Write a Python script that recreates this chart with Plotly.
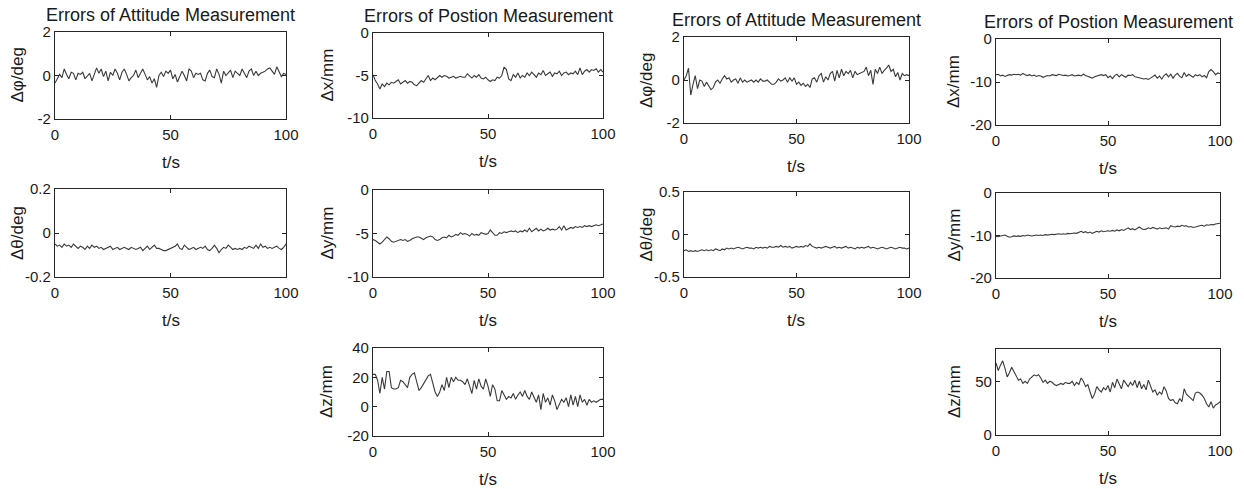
import numpy as np
import plotly.graph_objects as go

# ---------------- data ----------------
phi_a = [-0.35,-0.15,0.05,-0.1,0.3,0.05,-0.15,0.15,0.1,-0.2,
         0.1,0.05,0.15,-0.15,0.0,0.1,-0.25,0.1,0.35,0.1,
         0.3,-0.05,0.2,-0.25,0.15,0.0,0.3,0.1,-0.2,0.15,
         0.3,0.05,-0.25,-0.1,0.0,0.25,-0.1,0.1,0.3,0.05,
         -0.2,-0.05,-0.35,-0.15,-0.55,0.0,0.15,-0.05,0.2,0.1,
         0.25,-0.15,0.05,-0.3,-0.05,0.2,0.0,-0.25,0.3,0.2,
         -0.1,0.1,0.05,0.1,-0.2,-0.25,0.1,0.25,-0.05,-0.1,
         0.3,0.05,-0.35,0.2,0.0,0.15,0.25,-0.1,0.2,0.1,
         0.0,0.3,0.1,-0.1,0.2,0.3,0.0,0.2,0.0,0.1,
         0.15,0.2,0.3,0.35,0.2,0.05,0.4,0.15,-0.05,0.1,0.05]

theta_a = [-0.05,-0.06,-0.055,-0.065,-0.05,-0.06,-0.055,-0.065,-0.05,-0.06,
           -0.07,-0.06,-0.065,-0.075,-0.06,-0.07,-0.055,-0.065,-0.06,-0.07,
           -0.065,-0.075,-0.07,-0.065,-0.06,-0.075,-0.07,-0.065,-0.075,-0.07,
           -0.065,-0.07,-0.075,-0.065,-0.07,-0.075,-0.07,-0.065,-0.08,-0.07,
           -0.06,-0.075,-0.065,-0.055,-0.07,-0.07,-0.075,-0.08,-0.08,-0.075,
           -0.07,-0.065,-0.06,-0.05,-0.07,-0.075,-0.055,-0.065,-0.075,-0.07,
           -0.065,-0.075,-0.07,-0.065,-0.07,-0.06,-0.075,-0.08,-0.07,-0.055,
           -0.07,-0.09,-0.075,-0.065,-0.07,-0.055,-0.065,-0.075,-0.07,-0.075,
           -0.07,-0.075,-0.065,-0.07,-0.06,-0.065,-0.07,-0.055,-0.07,-0.05,
           -0.065,-0.06,-0.07,-0.065,-0.07,-0.065,-0.06,-0.07,-0.075,-0.065,-0.05]

dx_a = [-4.9,-5.6,-6.0,-6.6,-6.0,-6.3,-5.9,-6.1,-5.8,-5.9,
        -5.7,-5.5,-6.0,-5.8,-5.6,-5.9,-5.7,-5.8,-6.1,-6.2,
        -5.9,-5.6,-5.8,-5.4,-5.0,-5.6,-5.3,-5.5,-5.2,-5.0,
        -5.2,-5.0,-5.1,-5.3,-5.2,-5.1,-5.3,-5.2,-5.1,-5.2,
        -5.2,-4.8,-5.1,-5.3,-5.0,-5.2,-4.9,-5.3,-5.4,-5.2,
        -5.5,-5.7,-5.5,-5.6,-5.2,-5.3,-5.0,-4.0,-4.3,-5.4,
        -5.6,-4.9,-5.2,-4.7,-5.3,-5.0,-5.2,-4.7,-5.0,-4.6,
        -4.9,-5.2,-4.7,-4.9,-4.4,-5.0,-4.8,-4.6,-5.1,-4.7,
        -4.8,-4.5,-5.0,-4.7,-4.6,-4.9,-4.7,-4.8,-4.5,-4.9,
        -4.1,-4.9,-4.5,-4.3,-4.6,-4.3,-4.4,-4.2,-4.6,-4.3,-4.6]

dy_a = [-5.7,-5.8,-6.0,-6.2,-6.0,-5.7,-5.4,-5.6,-5.9,-6.0,
        -5.9,-5.8,-5.7,-5.8,-5.7,-5.9,-5.8,-5.6,-5.5,-5.4,
        -5.4,-5.6,-5.7,-5.5,-5.4,-5.3,-5.4,-5.7,-5.8,-5.7,
        -5.5,-5.4,-5.5,-5.2,-5.4,-5.3,-5.1,-5.2,-4.9,-5.1,
        -5.0,-5.1,-5.3,-5.0,-5.2,-5.1,-5.2,-4.9,-5.0,-5.1,
        -5.0,-4.6,-4.9,-5.2,-5.2,-4.9,-5.0,-4.8,-4.9,-4.8,
        -4.7,-4.8,-4.7,-4.9,-4.7,-4.8,-4.6,-4.8,-4.4,-4.8,
        -4.6,-4.4,-4.7,-4.5,-4.7,-4.6,-4.4,-4.6,-4.5,-4.6,
        -4.5,-4.2,-4.6,-4.1,-4.6,-4.4,-4.3,-4.4,-4.2,-4.3,
        -4.2,-4.3,-4.1,-4.2,-4.1,-4.2,-4.1,-4.0,-4.1,-4.0,-3.9]

dz_a = [22,22,18,9,20,12,24,24,13,12,
        12,13,18,17,15,13,20,22,23,16,
        11,13,16,19,21,22,16,10,7,10,
        15,11,20,13,20,17,20,18,18,17,
        15,19,14,9,18,12,19,14,12,19,
        14,7,15,12,4,4,11,8,5,7,
        6,9,5,8,10,7,11,7,5,10,
        6,3,8,-2,9,3,6,1,8,4,
        -2,2,5,3,6,0,8,1,7,0,
        8,3,5,1,5,3,4,3,4,5,5]

phi_b = [0.0,0.2,0.55,-0.7,-0.2,0.2,-0.4,0.0,-0.05,-0.3,
         -0.1,-0.3,-0.45,-0.35,-0.1,0.0,-0.15,0.05,0.2,0.05,
         0.1,-0.1,0.0,0.05,-0.15,0.1,-0.1,0.0,-0.1,-0.05,
         0.0,-0.1,0.0,-0.1,0.05,-0.05,-0.05,0.0,-0.1,-0.2,
         -0.2,-0.1,0.05,-0.05,0.0,0.1,-0.1,0.1,-0.05,0.1,
         -0.2,-0.1,-0.25,-0.15,-0.3,-0.2,-0.35,0.05,0.1,-0.1,
         0.2,0.3,-0.1,0.15,0.0,0.3,0.4,-0.05,0.45,0.1,
         0.5,0.2,0.4,0.3,0.45,0.1,0.4,0.25,0.3,0.35,
         0.4,0.6,0.2,0.45,-0.2,0.5,0.3,0.6,0.3,0.45,
         0.55,0.7,0.4,0.5,0.15,0.35,0.0,0.3,0.2,0.25,0.2]

theta_b = [-0.19,-0.18,-0.2,-0.19,-0.2,-0.19,-0.2,-0.19,-0.18,-0.19,
           -0.18,-0.19,-0.18,-0.19,-0.17,-0.18,-0.19,-0.17,-0.18,-0.16,
           -0.17,-0.16,-0.17,-0.16,-0.15,-0.16,-0.17,-0.16,-0.15,-0.16,
           -0.16,-0.17,-0.15,-0.16,-0.15,-0.16,-0.15,-0.16,-0.14,-0.15,
           -0.15,-0.14,-0.15,-0.13,-0.15,-0.14,-0.15,-0.14,-0.16,-0.15,
           -0.14,-0.15,-0.14,-0.15,-0.13,-0.14,-0.11,-0.14,-0.15,-0.16,
           -0.15,-0.16,-0.15,-0.14,-0.15,-0.16,-0.15,-0.14,-0.16,-0.15,
           -0.16,-0.15,-0.14,-0.16,-0.15,-0.16,-0.17,-0.15,-0.16,-0.15,
           -0.16,-0.15,-0.14,-0.16,-0.15,-0.16,-0.17,-0.16,-0.15,-0.16,
           -0.17,-0.16,-0.15,-0.16,-0.17,-0.16,-0.15,-0.16,-0.16,-0.17,-0.16]

dx_b = [-8.3,-8.2,-8.6,-8.4,-8.7,-8.5,-8.3,-8.4,-8.2,-8.3,
        -8.2,-8.4,-8.0,-8.3,-8.5,-8.3,-8.6,-8.4,-8.7,-8.5,
        -8.6,-8.9,-8.7,-8.5,-8.6,-8.3,-8.4,-8.5,-8.2,-8.4,
        -8.5,-8.4,-8.6,-8.5,-8.3,-8.6,-8.5,-8.4,-8.6,-8.2,
        -8.5,-8.7,-8.9,-9.1,-8.8,-8.6,-8.4,-8.3,-8.5,-8.3,
        -9.0,-8.6,-9.2,-8.5,-8.2,-8.8,-8.3,-8.6,-8.9,-8.4,
        -8.5,-8.3,-8.8,-8.9,-9.0,-9.2,-9.3,-9.2,-9.4,-9.1,
        -8.8,-8.4,-9.1,-8.6,-9.3,-8.5,-8.1,-8.8,-8.2,-9.1,
        -8.4,-8.0,-8.7,-9.0,-7.8,-8.7,-8.2,-8.5,-8.9,-8.3,
        -8.6,-8.3,-8.8,-8.5,-9.0,-7.6,-7.1,-7.6,-8.3,-7.9,-8.1]

dy_b = [-10.2,-10.3,-10.1,-10.0,-9.9,-10.2,-10.4,-10.3,-10.1,-10.2,
        -10.1,-10.2,-10.0,-10.1,-9.9,-10.0,-10.1,-10.0,-9.9,-10.0,
        -9.9,-10.0,-9.8,-9.9,-9.8,-9.7,-9.8,-9.7,-9.6,-9.7,
        -9.6,-9.7,-9.5,-9.6,-9.5,-9.4,-9.5,-9.2,-9.0,-9.3,
        -9.1,-9.4,-9.2,-9.5,-9.3,-9.0,-9.2,-8.9,-9.1,-9.0,
        -8.9,-9.0,-8.8,-9.0,-8.7,-8.9,-8.6,-8.8,-8.5,-8.2,
        -8.6,-8.4,-8.7,-8.3,-8.0,-8.4,-8.6,-8.5,-8.2,-8.4,
        -8.1,-8.3,-8.5,-8.2,-8.4,-8.3,-8.2,-8.5,-7.7,-7.9,
        -8.0,-7.8,-7.9,-7.6,-7.8,-7.7,-8.0,-7.9,-8.1,-8.0,
        -7.8,-7.7,-7.6,-7.8,-7.5,-7.6,-7.4,-7.5,-7.3,-7.2,-7.1]

dz_b = [67,60,65,69,62,54,58,63,59,55,
        51,52,48,50,48,52,54,56,55,56,
        53,49,51,48,50,49,47,46,47,48,
        47,49,48,48,50,46,49,47,53,50,
        45,47,40,34,38,45,42,40,44,42,
        46,40,49,44,52,48,43,51,48,45,
        49,46,51,44,50,43,47,42,51,45,
        40,42,37,40,38,45,41,34,32,33,
        30,29,34,31,43,38,36,34,32,39,
        40,39,37,34,29,26,31,25,28,29,31]

x_ticks = [0, 50, 100]
x_ticktext = ["0", "50", "100"]

col_titles = ["Errors of Attitude Measurement", "Errors of Postion Measurement",
              "Errors of Attitude Measurement", "Errors of Postion Measurement"]
x_label = "t/s"

# panel definitions: (series, y-range, y tick values, y tick labels, y label)
panels = [
    (phi_a,   [-2, 2],     [-2, 0, 2],       ["-2", "0", "2"],        "Δφ/deg"),
    (theta_a, [-0.2, 0.2], [-0.2, 0, 0.2],   ["-0.2", "0", "0.2"],    "Δθ/deg"),
    (dx_a,    [-10, 0],    [-10, -5, 0],     ["-10", "-5", "0"],      "Δx/mm"),
    (dy_a,    [-10, 0],    [-10, -5, 0],     ["-10", "-5", "0"],      "Δy/mm"),
    (dz_a,    [-20, 40],   [-20, 0, 20, 40], ["-20", "0", "20", "40"], "Δz/mm"),
    (phi_b,   [-2, 2],     [-2, 0, 2],       ["-2", "0", "2"],        "Δφ/deg"),
    (theta_b, [-0.5, 0.5], [-0.5, 0, 0.5],   ["-0.5", "0", "0.5"],    "Δθ/deg"),
    (dx_b,    [-20, 0],    [-20, -10, 0],    ["-20", "-10", "0"],     "Δx/mm"),
    (dy_b,    [-20, 0],    [-20, -10, 0],    ["-20", "-10", "0"],     "Δy/mm"),
    (dz_b,    [0, 80],     [0, 50],          ["0", "50"],             "Δz/mm"),
]

# ---------------- layout geometry (pixels) ----------------
W, H = 1244, 489
# (x0, x1, y_top, y_bottom, ylabel shift, column index for title or None)
boxes = [
    (55, 286, 32, 119, -38, 0),
    (55, 286, 189, 277, -38, None),
    (373, 603, 33, 118, -46, 1),
    (373, 603, 190, 277, -46, None),
    (373, 603, 348, 436, -47, None),
    (684, 909, 37, 123, -38, 2),
    (684, 909, 192, 277, -38, None),
    (996, 1220, 39, 125, -43, 3),
    (996, 1220, 193, 278, -42, None),
    (996, 1220, 349, 435, -42, None),
]

FONT = "Liberation Sans, Arial, sans-serif"
AX = "#262626"
TXT = "#1a1a1a"

fig = go.Figure()
layout = dict(
    width=W, height=H, margin=dict(l=0, r=0, t=0, b=0, autoexpand=False),
    paper_bgcolor="white", plot_bgcolor="white", showlegend=False,
    font=dict(family=FONT, size=15, color=TXT),
)
annotations = []

for i, ((vals, yr, yv, yt, ylab), (x0, x1, yt0, yb1, yshift, col)) in enumerate(zip(panels, boxes)):
    n = i + 1
    xa = "x" if n == 1 else f"x{n}"
    ya = "y" if n == 1 else f"y{n}"
    t = np.linspace(0, 100, len(vals))
    fig.add_trace(go.Scatter(x=t, y=vals, mode="lines", xaxis=xa, yaxis=ya,
                             line=dict(color="#3a3a3a", width=1.1), hoverinfo="skip"))
    common = dict(showline=True, linecolor=AX, linewidth=1.3, mirror="ticks",
                  ticks="inside", ticklen=4, tickwidth=1, tickcolor=AX,
                  showgrid=False, zeroline=False, automargin=False,
                  tickfont=dict(size=15, family=FONT, color=TXT))
    layout["xaxis" if n == 1 else f"xaxis{n}"] = dict(
        domain=[x0 / W, x1 / W], anchor=ya, range=[0, 100], ticklabelstandoff=2,
        tickmode="array", tickvals=x_ticks, ticktext=x_ticktext, **common)
    layout["yaxis" if n == 1 else f"yaxis{n}"] = dict(
        domain=[1 - yb1 / H, 1 - yt0 / H], anchor=xa, range=yr,
        tickmode="array", tickvals=yv, ticktext=yt, **common)
    xd = f"{xa} domain"
    yd = f"{ya} domain"
    annotations.append(dict(text=x_label, x=0.5, y=0, xref=xd, yref=yd,
                            xanchor="center", yanchor="middle", yshift=-43,
                            showarrow=False, font=dict(size=17, family=FONT, color=TXT)))
    annotations.append(dict(text=ylab, x=0, y=0.5, xref=xd, yref=yd, textangle=-90,
                            xanchor="center", yanchor="middle", xshift=yshift,
                            showarrow=False, font=dict(size=17, family=FONT, color=TXT)))
    if col is not None:
        annotations.append(dict(text=col_titles[col], x=0.5, y=1, xref=xd, yref=yd,
                                xanchor="center", yanchor="middle", yshift=17,
                                showarrow=False, font=dict(size=18, family=FONT, color=TXT)))

layout["annotations"] = annotations
fig.update_layout(**layout)
fig.write_html("out.html", config={"displayModeBar": False},
               post_script="document.body.style.margin='0px';")
